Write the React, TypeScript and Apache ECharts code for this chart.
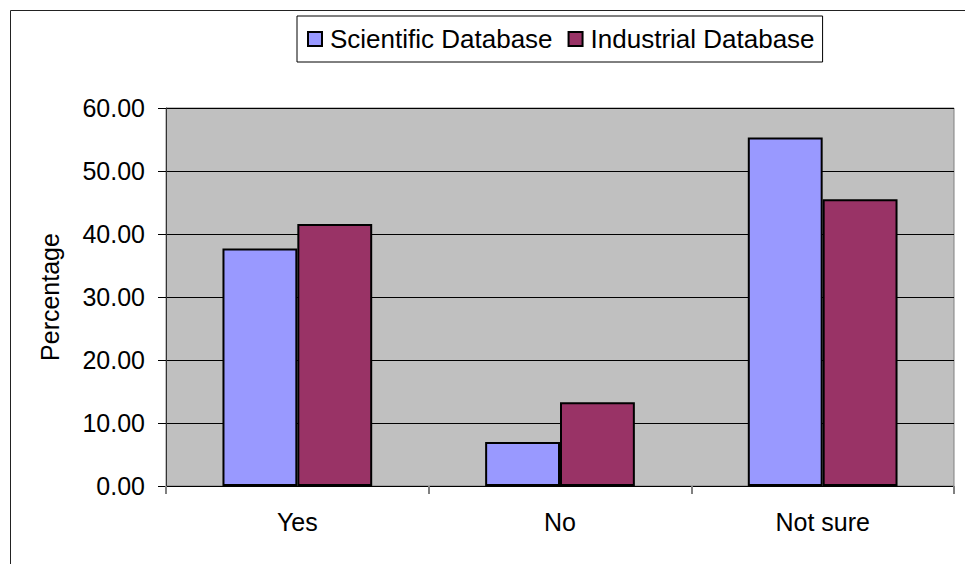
import React, { useEffect, useRef } from "react";
import * as echarts from "echarts";

const categories = ["Yes", "No", "Not sure"];
const scientific = [37.7, 7.0, 55.3];
const industrial = [41.6, 13.3, 45.5];
const seriesNames = ["Scientific Database", "Industrial Database"];
const yTicks = { min: 0, max: 60, interval: 10 };

const FONT = "Liberation Sans, Arial, sans-serif";

export default function App() {
  const ref = useRef<HTMLDivElement>(null);
  useEffect(() => {
    document.body.style.margin = "0";
    const chart = echarts.init(ref.current!, null, { renderer: "svg" });
    chart.setOption({
      animation: false,
      backgroundColor: "#ffffff",
      textStyle: { fontFamily: FONT },
      graphic: [
        {
          type: "rect",
          shape: { x: 10.5, y: 10.5, width: 1000, height: 600 },
          style: { fill: "none", stroke: "#222", lineWidth: 1 },
          silent: true,
          z: -1,
        },
      ],
      legend: {
        left: 297,
        top: 16,
        padding: [10, 8, 10, 10],
        itemGap: 15,
        itemWidth: 14,
        itemHeight: 14,
        icon: "rect",
        borderColor: "#000",
        borderWidth: 1,
        backgroundColor: "#fff",
        textStyle: { fontSize: 26, color: "#000", fontFamily: FONT, padding: [0, 0, 0, 3] },
        data: seriesNames,
      },
      grid: {
        left: 166,
        top: 108,
        right: 11,
        bottom: 78,
        show: true,
        backgroundColor: "#C0C0C0",
        borderColor: "#808080",
        borderWidth: 1,
      },
      xAxis: {
        type: "category",
        data: categories,
        axisLine: { show: true, lineStyle: { color: "#000", width: 1 } },
        axisTick: { show: true, length: 8, lineStyle: { color: "#808080", width: 2 } },
        axisLabel: { fontSize: 25, color: "#000", margin: 23, fontFamily: FONT },
      },
      yAxis: {
        type: "value",
        min: yTicks.min,
        max: yTicks.max,
        interval: yTicks.interval,
        name: "Percentage",
        nameLocation: "middle",
        nameGap: 104,
        nameTextStyle: { fontSize: 25, color: "#000", fontFamily: FONT },
        axisLine: { show: true, lineStyle: { color: "#333", width: 1 } },
        axisTick: { show: true, length: 8, lineStyle: { color: "#000" } },
        axisLabel: {
          fontSize: 25,
          color: "#000",
          margin: 21,
          fontFamily: FONT,
          formatter: (v: number) => v.toFixed(2),
        },
        splitLine: { show: true, lineStyle: { color: "#000", width: 1 } },
      },
      series: [
        {
          name: seriesNames[0],
          type: "bar",
          data: scientific,
          barGap: "0%",
          barCategoryGap: "43%",
          itemStyle: { color: "#9999FF", borderColor: "#000", borderWidth: 2 },
        },
        {
          name: seriesNames[1],
          type: "bar",
          data: industrial,
          barGap: "0%",
          barCategoryGap: "43%",
          itemStyle: { color: "#993366", borderColor: "#000", borderWidth: 2 },
        },
      ],
    });
    return () => chart.dispose();
  }, []);
  return <div ref={ref} style={{ width: 965, height: 564 }} />;
}
